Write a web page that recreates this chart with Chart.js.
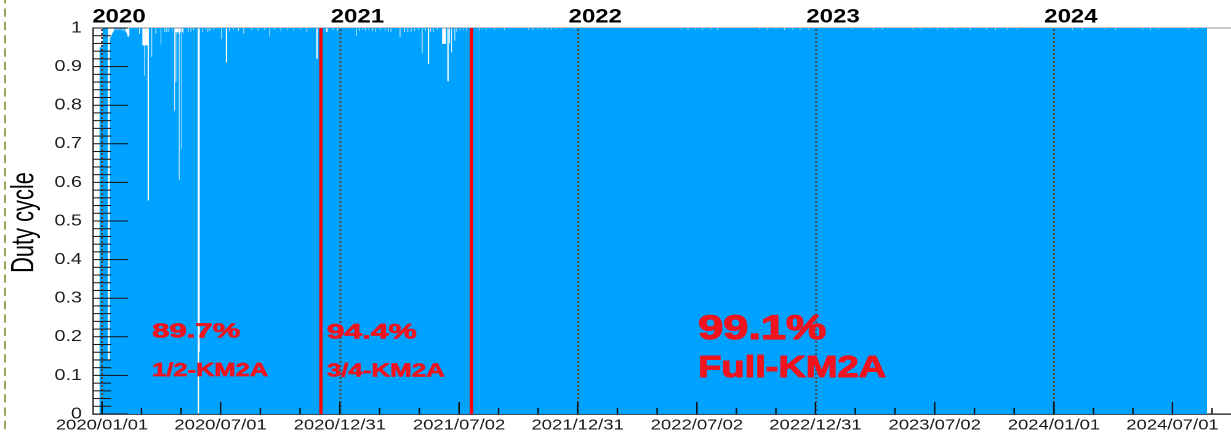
<!DOCTYPE html>
<html>
<head>
<meta charset="utf-8">
<title>KM2A duty cycle</title>
<script src="https://cdn.jsdelivr.net/npm/chart.js@4.4.1/dist/chart.umd.min.js"></script>
<style>
  html, body { margin: 0; padding: 0; background: #fff; overflow: hidden; }
  #duty { display: block; }
</style>
</head>
<body>
<canvas id="duty" width="1000" height="434" style="width:1231px;height:434px"></canvas>
<script>
// Daily duty cycle of the KM2A array. Days are counted from 2020-01-01 (day 0).
const dataStartDay = -4;     // 2019-12-28
const dataEndDay = 1695;     // 2024-08-22
const nominalDuty = 1.0;     // duty cycle on days without losses

// Days with reduced duty cycle and their value
const dipDays = [
  -4, -3, -2, -1, 0, 1,
  10, 11, 12, 13, 14, 15, 16, 17, 18, 20, 22, 24, 27, 30, 33, 36, 38, 39, 40, 41, 42,
  58, 63, 64, 65, 66, 67, 68, 69, 70, 71, 72, 77, 83, 91, 97, 100, 103, 108,
  112, 113, 114, 115, 116, 117, 118, 119, 120, 121, 123, 124, 125, 133, 137, 141,
  148, 149, 150, 155, 160, 163, 166, 172, 184, 191, 192, 196, 202, 210, 218, 230, 240, 250,
  258, 265, 275, 285, 295, 305, 315, 330, 331, 345, 347, 355, 362,
  391, 396, 400, 405, 410, 416, 420, 428, 435, 440, 444, 458, 465, 470, 475, 480, 486,
  492, 497, 501, 502, 505, 509, 515, 523, 524, 525, 526, 527, 528, 531, 532, 534, 537, 542,
  545, 550, 555, 560,
  580, 585, 590, 603, 618, 655, 662, 670, 676, 684, 690, 698, 705, 726,
  890, 900, 912, 922, 935, 945, 1010, 1022, 1035, 1048, 1060, 1072, 1085,
  1152, 1185, 1198, 1245, 1258, 1270, 1283, 1296, 1310, 1322, 1333,
  1358, 1372, 1390, 1405, 1490, 1505, 1540, 1556, 1598, 1610, 1622, 1668, 1680
];
const dipDuty = [
  0.95, 0.95, 0.95, 0.95, 0.95, 0.95,
  0.14, 0.14, 0.14, 0.975, 0.977, 0.98, 0.984, 0.988, 0.991, 0.994, 0.995, 0.994, 0.995, 0.994, 0.993, 0.991, 0.988, 0.984, 0.978, 0.977, 0.98,
  0.985, 0.955, 0.955, 0.955, 0.877, 0.955, 0.955, 0.955, 0.955, 0.553, 0.553, 0.925, 0.985, 0.957, 0.99, 0.99, 0.99, 0.99,
  0.786, 0.99, 0.86, 0.99, 0.985, 0.99, 0.99, 0.607, 0.985, 0.99, 0.687, 0.99, 0.985, 0.99, 0.99, 0.995,
  0.0, 0.0, 0.16, 0.99, 0.995, 0.99, 0.993, 0.995, 0.971, 0.911, 0.911, 0.993, 0.995, 0.993, 0.985, 0.995, 0.993, 0.995,
  0.977, 0.995, 0.993, 0.995, 0.993, 0.995, 0.99, 0.92, 0.92, 0.99, 0.99, 0.995, 0.993,
  0.98, 0.993, 0.995, 0.993, 0.995, 0.993, 0.99, 0.995, 0.993, 0.99, 0.99, 0.976, 0.99, 0.99, 0.99, 0.993, 0.995,
  0.934, 0.993, 0.907, 0.907, 0.99, 0.99, 0.995, 0.959, 0.959, 0.959, 0.959, 0.959, 0.959, 0.862, 0.862, 0.96, 0.937, 0.967,
  0.99, 0.993, 0.995, 0.993,
  0.994, 0.995, 0.994, 0.996, 0.995, 0.996, 0.995, 0.996, 0.995, 0.996, 0.995, 0.996, 0.995, 0.997,
  0.996, 0.995, 0.996, 0.995, 0.996, 0.995, 0.996, 0.995, 0.996, 0.995, 0.996, 0.995, 0.996,
  0.996, 0.995, 0.996, 0.996, 0.995, 0.996, 0.995, 0.996, 0.995, 0.996, 0.995,
  0.996, 0.995, 0.996, 0.995, 0.996, 0.995, 0.996, 0.995, 0.996, 0.995, 0.996, 0.995, 0.996
];

// Axis text
const yTitle = 'Duty cycle';
const yearLabels = ['2020', '2021', '2022', '2023', '2024'];
const dateTickLabels = ['2020/01/01', '2020/07/01', '2020/12/31', '2021/07/02', '2021/12/31',
                        '2022/07/02', '2022/12/31', '2023/07/02', '2024/01/01', '2024/07/01'];

// Array configurations and their average duty cycle
const phaseNames = ['1/2-KM2A', '3/4-KM2A', 'Full-KM2A'];
const phaseDutyPct = [89.7, 94.4, 99.1];
const upgradeDates = ['2020-12-02', '2021-07-21'];   // start of 3/4 and of full array

// ---------------------------------------------------------------------------
function dayOf(s) {
  const [yy, mm, dd] = s.split(/[-\/]/).map(Number);
  return Math.round((Date.UTC(yy, mm - 1, dd) - Date.UTC(2020, 0, 1)) / 864e5);
}

const dutyByDay = new Map(dipDays.map((d, i) => [d, dipDuty[i]]));
const dailyPoints = [];
for (let d = dataStartDay; d <= dataEndDay; d++) {
  dailyPoints.push({ x: d, y: dutyByDay.has(d) ? dutyByDay.get(d) : nominalDuty });
}
// close the last daily bin
dailyPoints.push({ x: dataEndDay + 1, y: dailyPoints[dailyPoints.length - 1].y });

const X_MIN = -13.8, X_MAX = 1732.8;

const majorTickDays = dateTickLabels.map(dayOf);
const minorTickDays = [];
majorTickDays.forEach((a, i) => {
  const span = i + 1 < majorTickDays.length ? majorTickDays[i + 1] - a : a - majorTickDays[i - 1];
  for (let k = 1; k < 3; k++) {
    const v = a + k * span / 3;
    if (v < X_MAX) minorTickDays.push(v);
  }
});
const bottomTickDays = majorTickDays.concat(minorTickDays).sort((p, q) => p - q);
const yearStartDays = yearLabels.map(y => dayOf(y + '-01-01'));

const FONT = '"Liberation Sans", Arial, Helvetica, sans-serif';
const RED = '#f0141e';

const phaseLabelLayout = [
  { text: phaseDutyPct[0].toFixed(1) + '%', day: 77,  value: 0.198, size: 20.5, width: 71.5 },
  { text: phaseNames[0],                    day: 77,  value: 0.098, size: 18.6, width: 94.2 },
  { text: phaseDutyPct[1].toFixed(1) + '%', day: 345, value: 0.196, size: 21,   width: 73.1 },
  { text: phaseNames[1],                    day: 345, value: 0.097, size: 18.6, width: 95.9 },
  { text: phaseDutyPct[2].toFixed(1) + '%', day: 915, value: 0.194, size: 34,   width: 104 },
  { text: phaseNames[2],                    day: 915, value: 0.096, size: 31,   width: 152.7 }
];

// Year boundaries (dotted), upgrade markers (red) and phase labels
const markersPlugin = {
  id: 'markers',
  afterDatasetsDraw(chart) {
    const { ctx, chartArea: { top, bottom }, scales: { x, y } } = chart;
    ctx.save();
    ctx.strokeStyle = '#4a4a4a';
    ctx.lineWidth = 1.6;
    ctx.setLineDash([2, 2]);
    yearStartDays.forEach(d => {
      const px = x.getPixelForValue(d);
      ctx.beginPath(); ctx.moveTo(px, top + 1); ctx.lineTo(px, bottom); ctx.stroke();
    });
    ctx.setLineDash([]);
    ctx.strokeStyle = '#ff0000';
    ctx.lineWidth = 2.7;
    upgradeDates.forEach(s => {
      const px = x.getPixelForValue(dayOf(s));
      ctx.beginPath(); ctx.moveTo(px, top); ctx.lineTo(px, bottom); ctx.stroke();
    });
    ctx.fillStyle = RED;
    ctx.strokeStyle = RED;
    ctx.lineJoin = 'round';
    ctx.textAlign = 'left';
    ctx.textBaseline = 'alphabetic';
    phaseLabelLayout.forEach(l => {
      ctx.font = `bold ${l.size}px ${FONT}`;
      const w = ctx.measureText(l.text).width;
      ctx.save();
      ctx.translate(x.getPixelForValue(l.day), y.getPixelForValue(l.value));
      ctx.scale(l.width / w, 1);
      ctx.lineWidth = l.size * 0.035;
      ctx.fillText(l.text, 0, 0);
      ctx.strokeText(l.text, 0, 0);
      ctx.restore();
    });
    ctx.restore();
  }
};

// Tick marks drawn inside the frame, the y-axis title and the page margin rule
const frameTicksPlugin = {
  id: 'frameTicks',
  afterDraw(chart) {
    const { ctx, chartArea: { left, top, bottom }, scales: { x, y } } = chart;
    ctx.save();
    ctx.strokeStyle = '#111';
    ctx.lineWidth = 1;
    for (let i = 0; i <= 50; i++) {
      const py = y.getPixelForValue(i / 50);
      const len = i % 5 === 0 ? 28.4 : 14.6;
      ctx.beginPath(); ctx.moveTo(left, py); ctx.lineTo(left + len, py); ctx.stroke();
    }
    ctx.lineWidth = 1.2;
    bottomTickDays.forEach(d => {
      const px = x.getPixelForValue(d);
      const len = majorTickDays.includes(d) ? 12 : 6;
      ctx.beginPath(); ctx.moveTo(px, bottom); ctx.lineTo(px, bottom - len); ctx.stroke();
    });

    // rotated axis title, slightly condensed along its length
    ctx.save();
    ctx.translate(26.8, (top + bottom) / 2 + 1.5);
    ctx.rotate(-Math.PI / 2);
    ctx.scale(0.84, 1);
    ctx.font = `26px ${FONT}`;
    ctx.fillStyle = '#000';
    ctx.textAlign = 'center';
    ctx.textBaseline = 'alphabetic';
    ctx.fillText(yTitle, 0, 0);
    ctx.restore();

    ctx.strokeStyle = '#8a9d46';
    ctx.lineWidth = 1.6;
    ctx.setLineDash([8.3, 5]);
    ctx.lineDashOffset = 4.8;
    ctx.beginPath(); ctx.moveTo(4.1, 0); ctx.lineTo(4.1, chart.height); ctx.stroke();
    ctx.restore();
  }
};

new Chart(document.getElementById('duty'), {
  type: 'line',
  data: {
    datasets: [{
      label: yTitle,
      data: dailyPoints,
      xAxisID: 'x',
      yAxisID: 'y',
      stepped: 'after',
      fill: 'origin',
      backgroundColor: '#00a2ff',
      borderColor: 'rgba(0,0,0,0)',
      borderWidth: 0,
      pointRadius: 0,
      tension: 0
    }]
  },
  options: {
    responsive: false,
    devicePixelRatio: 2,
    animation: false,
    events: [],
    layout: { padding: 0 },
    plugins: { legend: { display: false }, tooltip: { enabled: false } },
    scales: {
      x: {
        type: 'linear',
        position: 'bottom',
        min: X_MIN,
        max: X_MAX,
        bounds: 'data',
        z: 1,
        grid: { display: false, drawTicks: false },
        border: { display: true, color: '#111', width: 1.3 },
        afterBuildTicks: s => { s.ticks = bottomTickDays.map(v => ({ value: v })); },
        afterFit: s => { s.height = 20; },
        ticks: {
          autoSkip: false,
          maxRotation: 0,
          padding: 2.5,
          color: '#1a1a1a',
          font: { family: FONT, size: 15 },
          callback: v => {
            const i = majorTickDays.indexOf(v);
            return i >= 0 ? dateTickLabels[i] : '';
          }
        }
      },
      xTop: {
        type: 'linear',
        axis: 'x',
        position: 'top',
        min: X_MIN,
        max: X_MAX,
        bounds: 'data',
        z: 1,
        grid: { display: false, drawTicks: false },
        border: { display: true, color: '#8c8c8c', width: 1 },
        afterBuildTicks: s => { s.ticks = yearStartDays.map(v => ({ value: v })); },
        afterFit: s => { s.height = 28; },
        ticks: {
          autoSkip: false,
          maxRotation: 0,
          align: 'start',
          labelOffset: -7.9,
          padding: 0,
          color: '#000',
          font: { family: FONT, size: 19.5, weight: 'bold', lineHeight: 1.1 },
          callback: v => yearLabels[yearStartDays.indexOf(v)] || ''
        }
      },
      y: {
        type: 'linear',
        position: 'left',
        min: 0,
        max: 1,
        z: 1,
        grid: { display: false, drawTicks: false },
        border: { display: true, color: '#333', width: 1.3 },
        afterFit: s => { s.width = 75.55; },
        ticks: {
          stepSize: 0.1,
          padding: 9,
          color: '#1a1a1a',
          font: { family: FONT, size: 16 },
          callback: v => (Math.abs(v) < 1e-9 ? '0' : Math.abs(v - 1) < 1e-9 ? '1' : v.toFixed(1))
        }
      }
    }
  },
  plugins: [markersPlugin, frameTicksPlugin]
});
</script>
</body>
</html>
